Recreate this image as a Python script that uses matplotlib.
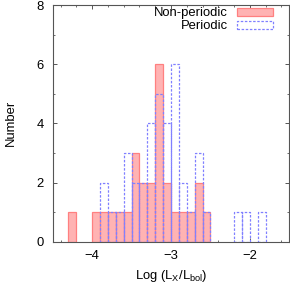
import matplotlib
matplotlib.use("Agg")
import matplotlib.pyplot as plt
from matplotlib.ticker import MultipleLocator

# Histogram data: lower bin edges (Log Lx/Lbol) and counts, bin width 0.1
nonper_bins = [-4.3, -4.0, -3.9, -3.8, -3.7, -3.6, -3.5, -3.4, -3.3, -3.2, -3.1, -3.0, -2.9, -2.8, -2.7, -2.6]
nonper_counts = [1, 1, 1, 1, 1, 1, 3, 2, 2, 6, 2, 1, 1, 1, 2, 1]

per_bins = [-3.9, -3.8, -3.7, -3.6, -3.5, -3.4, -3.3, -3.2, -3.1, -3.0, -2.9, -2.8, -2.7, -2.6, -2.2, -2.1, -1.9]
per_counts = [2, 1, 1, 3, 2, 2, 4, 5, 4, 6, 2, 1, 3, 1, 1, 1, 1]

bin_width = 0.1
xticks = [-4, -3, -2]
yticks = [0, 2, 4, 6, 8]

plt.rcParams['font.family'] = ['Liberation Sans', 'DejaVu Sans']
plt.rcParams['mathtext.fontset'] = 'custom'
plt.rcParams['mathtext.rm'] = 'Liberation Sans'
plt.rcParams['mathtext.it'] = 'Liberation Sans'
plt.rcParams['font.size'] = 9.4

fig = plt.figure(figsize=(2.90, 2.84), dpi=100)
ax = fig.add_axes([52.7 / 290, 1 - 241.7 / 284, (289.3 - 52.7) / 290, (241.7 - 5) / 284])

ax.bar(nonper_bins, nonper_counts, width=bin_width, align='edge',
       facecolor='#ffb3b3', edgecolor='#ff8080', linewidth=0.9, label='Non-periodic', zorder=2)
ax.bar(per_bins, per_counts, width=bin_width, align='edge', fill=False,
       edgecolor='#8080ff', linewidth=0.9, linestyle=(0, (2.0, 1.3)), label='Periodic', zorder=3)

ax.set_xlim(-4.5, -1.5)
ax.set_ylim(0, 8)
ax.set_xticks(xticks)
ax.set_yticks(yticks)
ax.xaxis.set_minor_locator(MultipleLocator(0.2))
ax.yaxis.set_minor_locator(MultipleLocator(1))
ax.tick_params(which='both', direction='in', top=True, right=True, color='#555555')
ax.tick_params(which='major', length=3.2, width=0.7)
ax.tick_params(which='minor', length=1.6, width=0.6)
ax.tick_params(axis='y', which='major', pad=6.5)
ax.tick_params(axis='x', which='major', pad=6)
for s in ax.spines.values():
    s.set_color('#555555')
    s.set_linewidth(0.8)

ax.set_xlabel('Log (L$_{\\rm X}$/L$_{\\rm bol}$)', labelpad=4)
ax.set_ylabel('Number', labelpad=14)

ax.legend(loc='upper right', bbox_to_anchor=(0.932, 0.99), frameon=False,
          markerfirst=False, handlelength=2.8, handleheight=0.55, handletextpad=0.7,
          labelspacing=0.08, borderpad=0, borderaxespad=0)

fig.savefig('out.png', dpi=100)
